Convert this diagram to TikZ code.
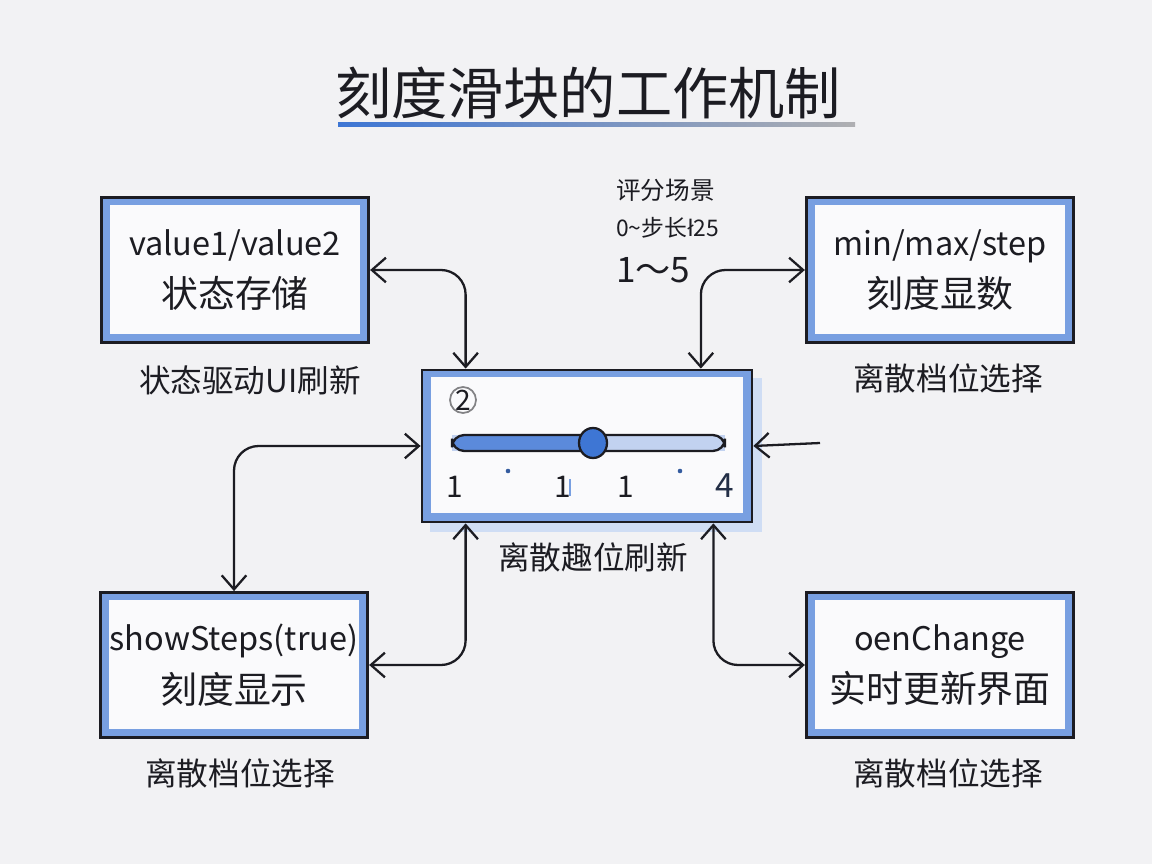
\documentclass[tikz,border=0pt]{standalone}
\usepackage{fontspec}
\newfontfamily\cjk{Noto Sans CJK SC}
\newfontfamily\dejavu{DejaVu Sans}
\usepackage{xcolor}
\usetikzlibrary{arrows.meta}
\definecolor{paperc}{RGB}{242,242,244}
\definecolor{inkc}{RGB}{28,28,34}
\definecolor{penc}{RGB}{62,118,212}
\definecolor{cardc}{RGB}{250,250,252}
\newcommand{\latin}[1]{{\fontsize{18.5}{30}\selectfont #1}}

\begin{document}
\begin{tikzpicture}[x=0.02cm,y=-0.02cm,>={Straight Barb[length=8pt,width=14pt]},
  card/.style={draw=inkc,line width=1.6pt,fill=penc!70,path picture={\fill[cardc] ([shift={(5pt,-4pt)}]path picture bounding box.north west) rectangle ([shift={(-5pt,5pt)}]path picture bounding box.south east);},minimum width=5.35cm,minimum height=2.9cm,align=center,text=inkc,font=\cjk\fontsize{21}{30}\selectfont},
  note/.style={text=inkc,font=\cjk\fontsize{18}{22}\selectfont},
  link/.style={draw=inkc,line width=1.3pt,rounded corners=14pt}]
\useasboundingbox (0,0) rectangle (1152,864);
\fill[paperc] (0,0) rectangle (1152,864);
% title
\node[text=inkc,font=\cjk\fontsize{32}{38}\selectfont] (title) at (588,93) {刻度滑块的工作机制};
\shade[left color=penc,right color=inkc!35] (338,123) rectangle (855,127);
% four cards
\node[card] (store)  at (235,270) {\latin{value1/value2}\\状态存储};
\node[card] (minmax) at (940,270) {\latin{min/max/step}\\刻度显数};
\node[card] (steps)  at (234,665) {\latin{showSteps(true)}\\刻度显示};
\node[card] (change) at (940,665) {\latin{oenChange}\\实时更新界面};
\node[note] (storenote)  at (250,380) {状态驱动UI刷新};
\node[note] (minmaxnote) at (948,378) {离散档位选择};
\node[note] (stepsnote)  at (240,773) {离散档位选择};
\node[note] (changenote) at (948,773) {离散档位选择};
% scenario
\node[anchor=west,text=inkc,font=\cjk\fontsize{14}{16}\selectfont] (scene) at (610,190) {评分场景};
\node[anchor=west,text=inkc,font=\cjk\fontsize{13}{15}\selectfont] (scenestep) at (610,228) {0\textasciitilde 步长{\dejavu ł}25};
\node[anchor=west,text=inkc,font=\cjk\fontsize{20}{22}\selectfont] (scenerange) at (610,270) {1～5};
% slider
\fill[penc!25] (430,378) rectangle (762,532);
\node[card,minimum width=6.6cm,minimum height=3.04cm] (slider) at (587,446) {};
\node[note] (slidernote) at (593,557) {离散趣位刷新};
\node[circle,draw=inkc!55,line width=1pt,fill=cardc,inner sep=0pt,minimum size=0.52cm,text=inkc,font=\cjk\fontsize{16}{16}\selectfont] (badge) at (463,400) {2};
\fill[cardc!70!penc] (452,435) rectangle (725,451);
\fill[penc!85,rounded corners=7pt] (452,435) rectangle (600,451);
\draw[inkc,line width=1.3pt,rounded corners=7pt] (452,435) rectangle (725,451);
\draw[inkc,line width=1.3pt,fill=penc] (593,443) ellipse [x radius=14,y radius=15];
\foreach \xp in {455,563,626}{\node[text=inkc,font=\cjk\fontsize{17}{17}\selectfont] at (\xp,487){1};}
\node[text=inkc!80!penc,font=\cjk\fontsize{19}{19}\selectfont] at (725,486){4};
\draw[penc!70,line width=1pt] (570,479)--(570,496);
\foreach \xp in {508,680}{\fill[penc!70!inkc] (\xp,471) circle (1.3pt);}
% connectors
\draw[link,<->] (store.east) -| ([xshift=0.9cm]slider.north west);
\draw[link,<->] ([xshift=-1.05cm]slider.north east) |- (minmax.west);
\draw[link,<->] (slider.west) -| (steps.north);
\draw[link,<->] ([xshift=0.9cm]slider.south west) |- (steps.east);
\draw[link,<->] ([xshift=-0.8cm]slider.south east) |- (change.west);
\coordinate (feed) at (820,443);
\draw[link,->] (feed) -- (slider.east);
\end{tikzpicture}
\end{document}
